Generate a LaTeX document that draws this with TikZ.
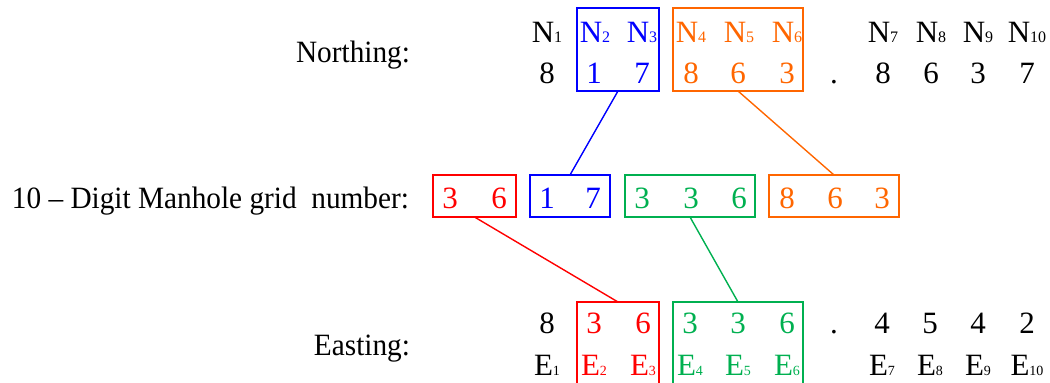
\documentclass[tikz,border=0pt]{standalone}
\usepackage{fontspec}
\setmainfont{Liberation Serif}
\newfontfamily\condfont[FakeStretch=0.945]{Liberation Serif}
\definecolor{cblue}{RGB}{0,0,255}
\definecolor{corange}{RGB}{255,102,0}
\definecolor{cred}{RGB}{255,0,0}
\definecolor{cgreen}{RGB}{0,176,80}
\newcommand{\Nsub}[2]{#1{\fontsize{16}{16}\selectfont #2}}
\newcommand{\Esub}[2]{#1{\fontsize{14}{14}\selectfont #2}}
\begin{document}
\begin{tikzpicture}[x=1pt,y=-1pt,
  dig/.style={inner sep=0pt, outer sep=0pt, anchor=base, font=\fontsize{31}{37}\selectfont},
  sym/.style={inner sep=0pt, outer sep=0pt, anchor=base, font=\fontsize{31}{37}\selectfont},
  lbl/.style={inner sep=0pt, outer sep=0pt, anchor=base east, font=\fontsize{31}{37}\condfont},
  grp/.style={draw=#1, line width=2pt, inner sep=0pt, outer sep=0pt, fill=none},
  link/.style={draw=#1, line width=1.4pt}]
\useasboundingbox (0,0) rectangle (1050,383);
\clip (0,0) rectangle (1050,383);

% labels
\node[lbl] (lnorth) at (410,62) {Northing:};
\node[lbl] (lgrid) at (409,208) {10 – Digit Manhole grid\ \ number:};
\node[lbl] (least) at (410,355) {Easting:};

% top boxes
\node[grp=cblue, minimum width=82pt, minimum height=83pt] (tb) at (618,49.5) {};
\node[grp=corange, minimum width=130pt, minimum height=83pt] (to) at (738,49.5) {};

% Northing symbols
\node[sym] (n1) at (547,42) {\Nsub{N}{1}};
\node[sym, text=cblue] (n2) at (595,42) {\Nsub{N}{2}};
\node[sym, text=cblue] (n3) at (642,42) {\Nsub{N}{3}};
\node[sym, text=corange] (n4) at (691,42) {\Nsub{N}{4}};
\node[sym, text=corange] (n5) at (739,42) {\Nsub{N}{5}};
\node[sym, text=corange] (n6) at (787,42) {\Nsub{N}{6}};
\node[sym] (n7) at (883,42) {\Nsub{N}{7}};
\node[sym] (n8) at (931,42) {\Nsub{N}{8}};
\node[sym] (n9) at (978,42) {\Nsub{N}{9}};
\node[sym] (n10) at (1027,42) {\Nsub{N}{10}};

% Northing digits
\node[dig] (nd1) at (547,83) {8};
\node[dig, text=cblue] (nd2) at (594,83) {1};
\node[dig, text=cblue] (nd3) at (642,83) {7};
\node[dig, text=corange] (nd4) at (691,83) {8};
\node[dig, text=corange] (nd5) at (738,83) {6};
\node[dig, text=corange] (nd6) at (787,83) {3};
\node[dig] (ndot) at (834,83) {.};
\node[dig] (nd7) at (883,83) {8};
\node[dig] (nd8) at (931,83) {6};
\node[dig] (nd9) at (978,83) {3};
\node[dig] (nd10) at (1027,83) {7};

% middle boxes
\node[grp=cred, minimum width=83pt, minimum height=42pt] (mr) at (474.5,196) {};
\node[grp=cblue, minimum width=80.5pt, minimum height=42pt] (mb) at (570,196) {};
\node[grp=cgreen, minimum width=130pt, minimum height=42pt] (mg) at (690,196) {};
\node[grp=corange, minimum width=130pt, minimum height=42pt] (mo) at (834,196) {};

% middle digits
\node[dig, text=cred] (m1) at (450,208) {3};
\node[dig, text=cred] (m2) at (499,208) {6};
\node[dig, text=cblue] (m3) at (547,208) {1};
\node[dig, text=cblue] (m4) at (593,208) {7};
\node[dig, text=cgreen] (m5) at (642,208) {3};
\node[dig, text=cgreen] (m6) at (691,208) {3};
\node[dig, text=cgreen] (m7) at (739,208) {6};
\node[dig, text=corange] (m8) at (787,208) {8};
\node[dig, text=corange] (m9) at (835,208) {6};
\node[dig, text=corange] (m10) at (882,208) {3};

% bottom boxes
\node[grp=cred, minimum width=82pt, minimum height=120pt] (br) at (618,362) {};
\node[grp=cgreen, minimum width=130pt, minimum height=120pt] (bg) at (738,362) {};

% Easting digits
\node[dig] (ed1) at (547,333) {8};
\node[dig, text=cred] (ed2) at (594,333) {3};
\node[dig, text=cred] (ed3) at (643,333) {6};
\node[dig, text=cgreen] (ed4) at (690,333) {3};
\node[dig, text=cgreen] (ed5) at (738,333) {3};
\node[dig, text=cgreen] (ed6) at (787,333) {6};
\node[dig] (edot) at (834,333) {.};
\node[dig] (ed7) at (882,333) {4};
\node[dig] (ed8) at (930,333) {5};
\node[dig] (ed9) at (978,333) {4};
\node[dig] (ed10) at (1027,333) {2};

% Easting symbols
\node[sym] (e1) at (547,375) {\Esub{E}{1}};
\node[sym, text=cred] (e2) at (594,375) {\Esub{E}{2}};
\node[sym, text=cred] (e3) at (643,375) {\Esub{E}{3}};
\node[sym, text=cgreen] (e4) at (690,375) {\Esub{E}{4}};
\node[sym, text=cgreen] (e5) at (738,375) {\Esub{E}{5}};
\node[sym, text=cgreen] (e6) at (787,375) {\Esub{E}{6}};
\node[sym] (e7) at (882,375) {\Esub{E}{7}};
\node[sym] (e8) at (930,375) {\Esub{E}{8}};
\node[sym] (e9) at (978,375) {\Esub{E}{9}};
\node[sym] (e10) at (1027,375) {\Esub{E}{10}};

% connectors
\draw[link=cblue] (tb.south) -- (mb.north);
\draw[link=corange] (to.south) -- (mo.north);
\draw[link=cred] (mr.south) -- (br.north);
\draw[link=cgreen] (mg.south) -- (bg.north);
\end{tikzpicture}
\end{document}
